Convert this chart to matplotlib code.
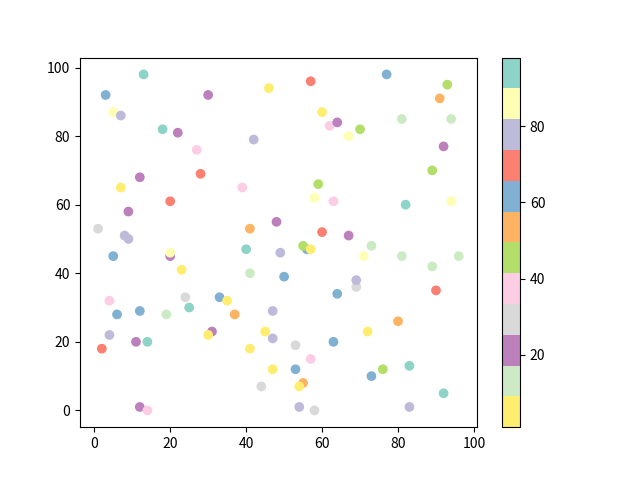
import matplotlib
matplotlib.use("Agg")
import matplotlib.pyplot as plt

plt.rcParams['font.family'] = ['Noto Sans CJK SC', 'DejaVu Sans']

# points, in drawing order
x = [13, 3, 30, 46, 5, 7, 18, 22, 42, 27, 12, 28, 7, 39, 20, 9, 1, 41, 48, 8, 9, 40,
     57, 77, 93, 91, 60, 62, 64, 70, 67, 81, 94, 92, 89, 59, 58, 63, 82, 94, 60, 67,
     5, 20, 20, 49, 23, 41, 4, 24, 33, 35, 25, 6, 12, 19, 37, 47, 4, 31, 30, 45, 47,
     2, 11, 14, 41, 47, 44, 12, 14,
     56, 55, 57, 73, 71, 81, 89, 96, 50, 69, 69, 64, 90, 80, 72, 53, 63, 57, 53, 76,
     83, 73, 55, 54, 92, 54, 58, 83]
y = [98, 92, 92, 94, 87, 86, 82, 81, 79, 76, 68, 69, 65, 65, 61, 58, 53, 53, 55, 51, 50, 47,
     96, 98, 95, 91, 87, 83, 84, 82, 80, 85, 85, 77, 70, 66, 62, 61, 60, 61, 52, 51,
     45, 45, 46, 46, 41, 40, 32, 33, 33, 32, 30, 28, 29, 28, 28, 29, 22, 23, 22, 23, 21,
     18, 20, 20, 18, 12, 7, 1, 0,
     47, 48, 47, 48, 45, 45, 42, 45, 39, 36, 38, 34, 35, 26, 23, 19, 20, 15, 12, 12,
     13, 10, 8, 7, 5, 1, 0, 1]
c = [98, 61, 21, 1, 85, 77, 94, 21, 77, 37, 21, 69, 5, 37, 69, 21, 29, 53, 21, 77, 77, 94,
     69, 61, 45, 53, 5, 37, 21, 45, 85, 13, 13, 21, 45, 45, 85, 37, 94, 85, 69, 21,
     61, 21, 85, 77, 5, 13, 37, 29, 61, 5, 94, 61, 61, 13, 53, 77, 77, 21, 5, 5, 77,
     69, 21, 94, 5, 5, 29, 21, 37,
     61, 45, 5, 13, 85, 13, 13, 13, 61, 29, 77, 61, 69, 53, 5, 29, 61, 37, 61, 45,
     94, 61, 53, 5, 94, 77, 29, 77]

fig = plt.figure(figsize=(6.4, 4.8))
plt.scatter(x, y, c=c, cmap='Set3_r')
plt.colorbar()
plt.savefig('out.png')
